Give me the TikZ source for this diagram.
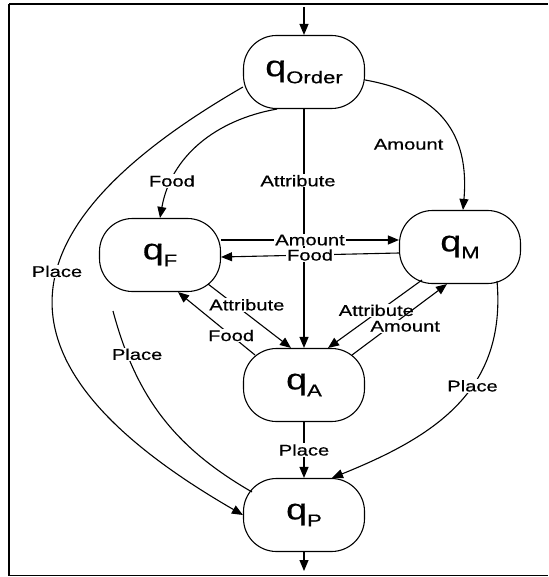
\documentclass[tikz,border=0pt]{standalone}
\usepackage{fontspec}
\setmainfont{Liberation Sans}[FakeStretch=1.3,FakeBold=0.6]
\usetikzlibrary{arrows.meta,calc}
\newcommand{\qsub}[1]{{\fontsize{29}{31}\selectfont q}\raisebox{-7pt}{\fontsize{17}{19}\selectfont #1}}

\begin{document}
\begin{tikzpicture}[x=1pt,y=1pt,state/.style={draw,line width=1.1pt,rounded corners=33pt,minimum width=121pt,minimum height=73pt,inner sep=0pt}, trans/.style={line width=1.1pt,-{Triangle[length=11pt,width=9pt]}}, plain/.style={line width=1.1pt}, lbl/.style={fill=white,inner sep=1pt,font=\fontsize{15.5}{17}\selectfont}]
\useasboundingbox (0,0) rectangle (548,-577);
\draw [line width=2pt] (9,-4) -- (548,-4);
\draw [line width=1.5pt] (9,-4) -- (9,-575.5) -- (548,-575.5);

\node(ord)[state] at (304,-72) {\qsub{Order}};
\node(qf)[state] at (160,-255) {\qsub{F}};
\node(qm)[state] at (460,-247) {\qsub{M}};
\node(qa)[state] at (304,-385) {\qsub{A}};
\node(qp)[state] at (304,-515) {\qsub{P}};
\coordinate(init) at (304,-7);
\coordinate(fin) at (304,-571);

\draw [trans] (init) to (ord);
\draw [trans] ([xshift=-27pt]ord.south) to[out=190,in=80] node[lbl,pos=0.78]{Food} (qf.north);
\draw [trans] (ord.south) to node[lbl,pos=0.3,xshift=-6pt]{Attribute} (qa.north);
\draw [trans] ([yshift=-8pt]ord.east) to[out=-10,in=85,looseness=1.2] node[lbl,pos=0.66,left=12pt]{Amount} ([xshift=3pt]qm.north);
\draw [trans] ([yshift=-15pt]ord.west) to[out=210,in=150,looseness=1.75] node[lbl,pos=0.43]{Place} (qp.west);
\draw [trans] ([yshift=15pt]qf.east) to node[lbl]{Amount} ([yshift=7pt]qm.west);
\draw [trans] ([yshift=-6pt]qm.west) to node[lbl]{Food} ([yshift=-2pt]qf.east);
\draw [trans] ($(qf)+(48,-29)$) to node[lbl,pos=0.42,xshift=4pt,yshift=6pt]{Attribute} ([xshift=-13pt]qa.north);
\draw [trans] ($(qa)+(-49,30)$) to node[lbl,pos=0.31]{Food} ([xshift=18pt]qf.south);
\draw [trans] ($(qm)+(-38,-33)$) to node[lbl,pos=0.55,xshift=6pt,yshift=7pt]{Attribute} ([xshift=24pt]qa.north);
\draw [trans] ($(qa)+(48,30)$) to node[lbl,pos=0.56,yshift=-11pt]{Amount} ([xshift=-13pt]qm.south);
\draw [plain] ([xshift=-47pt,yshift=-19pt]qf.south) to[out=-75,in=150] node[lbl,pos=0.18,xshift=10pt]{Place} ($(qp)+(-52,23)$);
\draw [trans] ($(qm)+(37,-34)$) to[out=-85,in=22,looseness=1.1] node[lbl,pos=0.4]{Place} ([xshift=28pt]qp.north);
\draw [trans] (qa.south) to node[lbl]{Place} (qp.north);
\draw [trans] (qp.south) to (fin);
\end{tikzpicture}
\end{document}
